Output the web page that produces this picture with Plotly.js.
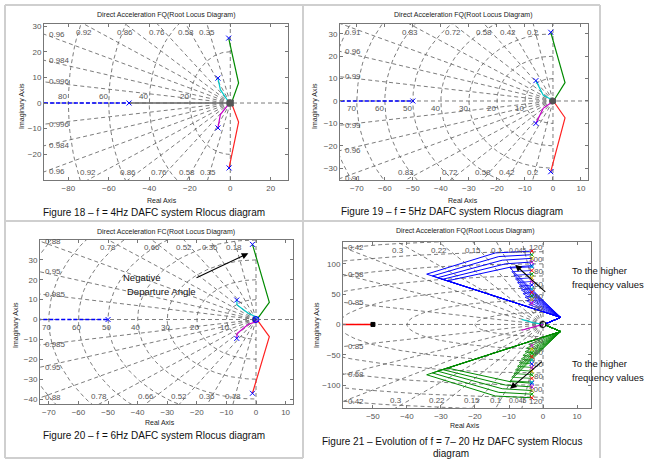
<!DOCTYPE html>
<html><head><meta charset="utf-8">
<script src="https://cdn.plot.ly/plotly-3.0.1.min.js"></script>
<style>body{margin:0;padding:0;background:#fff}#chart{width:650px;height:468px}</style>
</head><body><div id="chart"></div>
<script>
// ================= DATA =================
// sgrid damping ratios and natural frequencies of each panel
const zeta18 = [0.96, 0.92, 0.86, 0.76, 0.58, 0.35, 0.984, 0.996];
const wn18   = [20, 40, 60, 80];
const zeta19 = [0.91, 0.83, 0.72, 0.58, 0.42, 0.2, 0.96, 0.99];
const wn19   = [10, 20, 30, 40, 50, 60, 70, 80];
const zeta20 = [0.88, 0.78, 0.66, 0.52, 0.36, 0.18, 0.95, 0.985];
const wn20   = [10, 20, 30, 40, 50, 60, 70, 80];
const zeta21 = [0.42, 0.3, 0.22, 0.15, 0.1, 0.045, 0.58, 0.85];
const wn21   = [20, 40, 60, 80, 100, 120, 140];
const wnLabels21 = [20, 40, 60, 80, 100, 120];

// Figure 18 (f = 4 Hz) loci
const f18GreenX = [-0.8, 4.1, 0.8],  f18GreenY = [25.3, 7.8, 0.5];
const f18RedX   = [-0.6, 4.1, 0.8],  f18RedY   = [-25.3, -7.4, -0.5];
const f18CyanX  = [-6.1, -4.9, -0.8], f18CyanY = [9.7, 5.2, 0.4];
const f18MagX   = [-6.1, -4.9, -0.8], f18MagY  = [-9.7, -4.5, -0.4];
const f18BlueX  = [-95, -50],        f18BlueY  = [0, 0];
const f18GrayX  = [-50, 0],          f18GrayY  = [0, 0];
const f18PoleX  = [-0.8, -0.6, -6.1, -6.1, -50], f18PoleY = [25.3, -25.3, 9.7, -9.7, 0];

// Figure 19 (f = 5 Hz) loci
const f19GreenX = [-0.8, 4.3, 0.7],  f19GreenY = [30.7, 8.2, 1.0];
const f19RedX   = [-0.8, 4.3, 0.7],  f19RedY   = [-31.6, -7.5, -1.0];
const f19CyanX  = [-6.1, -3.5, -0.3], f19CyanY = [9.1, 2.7, 0.4];
const f19MagX   = [-6.1, -3.5, -0.3], f19MagY  = [-10.0, -3.3, -0.4];
const f19BlueX  = [-80, -50],        f19BlueY  = [0, 0];
const f19PoleX  = [-0.8, -0.8, -6.1, -6.1, -50], f19PoleY = [30.7, -31.6, 9.1, -10.0, 0];

// Figure 20 (f = 6 Hz) loci
const f20GreenX = [-1.2, 4.5, 0.7],  f20GreenY = [37.8, 8.6, 0.8];
const f20RedX   = [-1.2, 4.5, 0.7],  f20RedY   = [-37.1, -8.6, -0.8];
const f20CyanX  = [-6.5, -6.4, -2.6, 0.7], f20CyanY = [9.8, 7.3, 3.1, 0.8];
const f20MagX   = [-6.5, -6.4, -2.6, 0.7], f20MagY  = [-9.5, -7.0, -2.4, -0.8];
const f20BlueX  = [-80, -50],        f20BlueY  = [0, 0];
const f20PoleX  = [-1.2, -1.2, -6.5, -6.5, -50, 0], f20PoleY = [37.8, -37.1, 9.8, -9.5, 0, 0];

// Figure 21 (f = 7..20 Hz) loci, upper branch (lower branch is its complex conjugate)
const f21PoleX = -3.3;
const f21OuterPoleY = [121, 115, 109, 103, 97];
const f21OuterBendX = [-14, -13, -12, -11, -10];
const f21OuterBendY = [118, 112, 106, 100, 94];
const f21OuterTipX  = [-34.2, -32.5, -31.0, -29.5, -28.0];
const f21OuterTipY  = [83, 80, 77, 74.5, 72];
const f21InnerPoleY = [95, 89, 83, 77, 71, 65, 59, 53, 47, 41, 35];
const f21InnerTipX  = [-9.7, -9.2, -8.6, -8.1, -7.5, -7.0, -6.4, -5.9, -5.3, -4.8, -4.2];
const f21InnerTipY  = [93, 87, 81, 75, 69, 63, 57, 51, 45, 39, 33];
const f21KneeX = 5.2, f21KneeY = 11.6;
const f21EndX = 0.6,  f21EndY = 0.8;
const f21CyanX = [-6.3, -3.0, 0], f21CyanY = [8.3, 3.0, 0];
const f21MagX  = [-6.3, -3.0, 0], f21MagY  = [-9.5, -4.0, 0];
const f21RedX  = [-70, -50], f21RedY = [0, 0];
const poleColors = ['#ff0000', '#00a000', '#e0c000', '#d000d0', '#0000ff', '#00c0c0'];

// Text
const plotTitleFQ = 'Direct Acceleration FQ(Root Locus Diagram)';
const plotTitleFC = 'Direct Acceleration FC(Root Locus Diagram)';
const captions = ['Figure 18 \u2013 f = 4Hz DAFC system Rlocus diagram',
                  'Figure 19 \u2013 f = 5Hz DAFC system Rlocus diagram',
                  'Figure 20 \u2013 f = 6Hz DAFC system Rlocus diagram',
                  'Figure 21 \u2013 Evolution of f = 7\u2013 20 Hz DAFC system Rlocus',
                  'diagram'];

// ================= LAYOUT HELPERS =================
const W = 650, H = 468;
const FONT = 'Liberation Sans, Arial, sans-serif';
const PX = x => x / W, PY = y => 1 - y / H;
const GRIDC = '#5a5a5a';
const data = [];
const annotations = [];
const shapes = [];

const panels = [
  {n:'',  box:[44,288,24,180],  xr:[-92,28.5],   yr:[-30,30.8],   xt:[-80,-60,-40,-20,0,20], yt:[-20,-10,0,10,20,30],
   zeta:zeta18, wn:wn18, wnMode:'p1', title:plotTitleFQ, tpos:[166,15], xl:[162,200], yl:[22,106]},
  {n:'2', box:[340,588,24,180], xr:[-76,12.5],   yr:[-35.3,34.4], xt:[-70,-60,-50,-40,-30,-20,-10,0,10], yt:[-30,-20,-10,0,10,20,30],
   zeta:zeta19, wn:wn19, wnMode:'p2', title:plotTitleFQ, tpos:[463,15.5], xl:[463,200], yl:[315,106]},
  {n:'3', box:[40,293,240,404], xr:[-73,12.5],   yr:[-42.5,40],   xt:[-70,-60,-50,-40,-30,-20,-10,0,10], yt:[-40,-30,-20,-10,0,10,20,30],
   zeta:zeta20, wn:wn20, wnMode:'p3', title:plotTitleFC, tpos:[166,231.5], xl:[160,422.5], yl:[16,325]},
  {n:'4', box:[343,591,242,408],xr:[-58.8,14.1], yr:[-137.8,136], xt:[-50,-40,-30,-20,-10,0,10], yt:[-100,-50,0,50,100],
   zeta:zeta21, wn:wn21, wnMode:'p4', title:plotTitleFQ, tpos:[465,231], xl:[465,425], yl:[317,325]}
];

const layout = {
  width: W, height: H, margin:{l:0,r:0,t:0,b:0},
  paper_bgcolor:'#ffffff', plot_bgcolor:'#ffffff', showlegend:false,
  font:{family:FONT, size:8, color:'#555'}
};

panels.forEach(p => {
  const xa = 'x' + p.n, ya = 'y' + p.n;
  const common = {showgrid:false, zeroline:false, showline:true, linecolor:'#777', linewidth:1,
    mirror:'allticks', ticks:'inside', ticklen:3, tickcolor:'#777', tickfont:{family:FONT,size:8,color:'#555'},
    fixedrange:true};
  layout['xaxis'+p.n] = Object.assign({}, common, {domain:[PX(p.box[0]),PX(p.box[1])], range:p.xr,
    tickmode:'array', tickvals:p.xt, anchor:ya});
  layout['yaxis'+p.n] = Object.assign({}, common, {domain:[PY(p.box[3]),PY(p.box[2])], range:p.yr,
    tickmode:'array', tickvals:p.yt, anchor:xa});

  // ---- sgrid: damping lines + frequency circles + axes lines
  const gx = [], gy = [];
  const R = 2000;
  p.zeta.forEach(z => {
    const t = Math.acos(z);
    gx.push(0, -R*Math.cos(t), null); gy.push(0, R*Math.sin(t), null);
    gx.push(0, -R*Math.cos(t), null); gy.push(0, -R*Math.sin(t), null);
  });
  p.wn.forEach(w => {
    for (let k = 0; k <= 90; k++) {
      const a = Math.PI/2 + Math.PI*k/90;
      gx.push(w*Math.cos(a)); gy.push(w*Math.sin(a));
    }
    gx.push(null); gy.push(null);
  });
  gx.push(p.xr[0], p.xr[1], null, 0, 0); gy.push(0, 0, null, p.yr[0], p.yr[1]);
  data.push({type:'scatter', mode:'lines', x:gx, y:gy, xaxis:xa, yaxis:ya, hoverinfo:'skip',
    line:{color:GRIDC, width:0.8, dash:'4px,3px'}});

  // ---- damping labels at the box edge
  const xmin = p.xr[0], ymax = p.yr[1], ymin = p.yr[0];
  const lab = (txt, x, y, o) => annotations.push(Object.assign({text:txt, x:x, y:y, xref:xa, yref:ya,
    showarrow:false, font:{family:FONT,size:8,color:'#555'}}, o));
  p.zeta.forEach(z => {
    const s = Math.tan(Math.acos(z));
    [1, -1].forEach(sg => {
      const lim = sg > 0 ? ymax : -ymin;
      const yc = -xmin * s;
      if (yc <= lim) {
        lab(String(z), xmin, sg*yc, {xanchor:'left', yanchor:'middle', xshift:3});
      } else {
        const xc = -lim / s;
        const nearLeft = (xc - xmin) < 5;
        const nearRight = p.wnMode === 'p4' && xc > -8;
        const o = {xanchor: nearLeft ? 'left' : 'center', yanchor:'middle',
          xshift: nearLeft ? 3 : (nearRight ? -4 : 0), yshift: -sg*8};
        if (nearRight) o.font = {family:FONT,size:7,color:'#555'};
        lab(String(z), nearLeft ? xmin : xc, sg*lim, o);
      }
    });
  });
  // ---- natural frequency labels
  if (p.wnMode === 'p4') {
    wnLabels21.forEach(w => {
      lab(String(w), 0, w, {xanchor:'right', yanchor:'middle', xshift:2, yshift:4});
      lab(String(w), 0, -w, {xanchor:'right', yanchor:'middle', xshift:2, yshift:-4});
    });
  } else {
    p.wn.forEach(w => {
      if (-w < xmin) return;
      if (p.wnMode === 'p1') lab(String(w), -w, 0, {xanchor:'right', yanchor:'bottom', xshift:1, yshift:0});
      else if (p.wnMode === 'p2') lab(String(w), -w, 0, {xanchor:'right', yanchor:'top', xshift:1, yshift:-1});
      else lab(String(w), -w, 0, {xanchor:'center', yanchor:'top', xshift:-2, yshift:-1});
    });
  }

  // ---- titles
  const pa = (txt, x, y, o) => annotations.push(Object.assign({text:txt, x:PX(x), y:PY(y), xref:'paper', yref:'paper',
    showarrow:false, xanchor:'center', yanchor:'middle', font:{family:FONT,size:7,color:'#222'}}, o));
  pa(p.title, p.tpos[0], p.tpos[1]);
  pa('Real Axis', p.xl[0], p.xl[1]);
  pa('Imaginary Axis', p.yl[0], p.yl[1], {textangle:-90});
});

// ---------- loci helper
function line(xa, ya, x, y, color, width, dash) {
  data.push({type:'scatter', mode:'lines', x:x, y:y, xaxis:xa, yaxis:ya, hoverinfo:'skip',
    line:{color:color, width:width||1.2, dash:dash||'solid'}});
}
function marks(xa, ya, x, y, color, symbol, size) {
  data.push({type:'scatter', mode:'markers', x:x, y:y, xaxis:xa, yaxis:ya, hoverinfo:'skip', cliponaxis:true,
    marker:{color:color, symbol:symbol, size:size||5, line:{color:color, width:1}}});
}
const GREEN = '#008a00', RED = '#ff2020', CYAN = '#00c8c8', MAG = '#c800c8', BLUE = '#0000ff';

// Figure 18
line('x','y', f18GrayX, f18GrayY, '#666', 1.6);
line('x','y', f18BlueX, f18BlueY, BLUE, 1.4, '4px,2px');
line('x','y', f18GreenX, f18GreenY, GREEN); line('x','y', f18RedX, f18RedY, RED);
line('x','y', f18CyanX, f18CyanY, CYAN); line('x','y', f18MagX, f18MagY, MAG);
marks('x','y', f18PoleX, f18PoleY, BLUE, 'x-thin', 5);
marks('x','y', [0], [0], '#555', 'square', 6);

// Figure 19
line('x2','y2', f19BlueX, f19BlueY, BLUE, 1.4, '4px,2px');
line('x2','y2', f19GreenX, f19GreenY, GREEN); line('x2','y2', f19RedX, f19RedY, RED);
line('x2','y2', f19CyanX, f19CyanY, CYAN); line('x2','y2', f19MagX, f19MagY, MAG);
marks('x2','y2', f19PoleX, f19PoleY, BLUE, 'x-thin', 5);
marks('x2','y2', [0], [0], '#555', 'circle', 6);

// Figure 20
line('x3','y3', f20BlueX, f20BlueY, BLUE, 1.4, '4px,2px');
line('x3','y3', f20GreenX, f20GreenY, GREEN); line('x3','y3', f20RedX, f20RedY, RED);
line('x3','y3', f20CyanX, f20CyanY, CYAN); line('x3','y3', f20MagX, f20MagY, MAG);
marks('x3','y3', f20PoleX, f20PoleY, BLUE, 'x-thin', 5);
marks('x3','y3', [0], [0], BLUE, 'circle-open', 6);

// Figure 21
line('x4','y4', f21RedX, f21RedY, '#ff0000', 1.4);
marks('x4','y4', [-50], [0], '#000', 'square', 4);
[1, -1].forEach(sg => {
  const col = sg > 0 ? BLUE : GREEN;
  const px = [], py = [], pc = [];
  f21OuterPoleY.forEach((yy, i) => {
    line('x4','y4', [f21PoleX, f21OuterBendX[i], f21OuterTipX[i], f21KneeX, f21EndX],
      [sg*yy, sg*f21OuterBendY[i], sg*f21OuterTipY[i], sg*f21KneeY, sg*f21EndY], col, 1);
    px.push(f21PoleX); py.push(sg*yy); pc.push(poleColors[i % poleColors.length]);
  });
  f21InnerPoleY.forEach((yy, i) => {
    line('x4','y4', [f21PoleX, f21InnerTipX[i], f21KneeX, f21EndX],
      [sg*yy, sg*f21InnerTipY[i], sg*f21KneeY, sg*f21EndY], col, 0.8);
    px.push(f21PoleX); py.push(sg*yy); pc.push(poleColors[(i+5) % poleColors.length]);
  });
  data.push({type:'scatter', mode:'markers', x:px, y:py, xaxis:'x4', yaxis:'y4', hoverinfo:'skip',
    marker:{symbol:'x-thin', size:4, color:pc, line:{color:pc, width:1}}});
});
line('x4','y4', f21CyanX, f21CyanY, CYAN); line('x4','y4', f21MagX, f21MagY, MAG);
marks('x4','y4', [0], [0], '#000', 'circle-open', 6);

// ---------- arrows and notes
const arrow = (xa, ya, tx, ty, hx, hy) => annotations.push({text:'', x:hx, y:hy, ax:tx, ay:ty,
  xref:xa, yref:ya, axref:xa, ayref:ya, showarrow:true, arrowhead:2, arrowsize:1.2, arrowwidth:1.1, arrowcolor:'#000'});
arrow('x3','y3', -20.6, 20.7, -2.6, 33.3);
arrow('x4','y4', 1.1, 51.4, -8.2, 98.3);
arrow('x4','y4', 0.1, -59.2, -9.7, -106);

const note = (txt, x, y, o) => annotations.push(Object.assign({text:txt, x:PX(x), y:PY(y), xref:'paper', yref:'paper',
  showarrow:false, xanchor:'left', yanchor:'middle', font:{family:FONT,size:9.5,color:'#111'}}, o));
note('Negative', 142, 277.7, {xanchor:'center'});
note('Departure Angle', 125, 291.7);
note('To the higher', 570, 270);
note('frequency values', 570, 284.3);
note('To the higher', 570, 363.3);
note('frequency values', 570, 377.7);

// captions
const cap = (txt, x, y) => annotations.push({text:txt, x:PX(x), y:PY(y), xref:'paper', yref:'paper',
  showarrow:false, xanchor:'center', yanchor:'middle', font:{family:FONT,size:10,color:'#111'}});
cap(captions[0], 154, 212.3);
cap(captions[1], 451.5, 212);
cap(captions[2], 154, 435.7);
cap(captions[3], 452, 441.7);
cap(captions[4], 451, 453);

// table borders
const bl = (x0, y0, x1, y1) => shapes.push({type:'line', xref:'paper', yref:'paper',
  x0:PX(x0), y0:PY(y0), x1:PX(x1), y1:PY(y1), line:{color:'#cfcfcf', width:2}});
bl(5, 5, 600, 5); bl(5, 221, 600, 221); bl(5, 458, 303, 458);
bl(5, 5, 5, 458); bl(303, 5, 303, 458); bl(600, 5, 600, 458);

layout.annotations = annotations;
layout.shapes = shapes;
Plotly.newPlot('chart', data, layout, {staticPlot:true, displayModeBar:false});
</script>
</body></html>
